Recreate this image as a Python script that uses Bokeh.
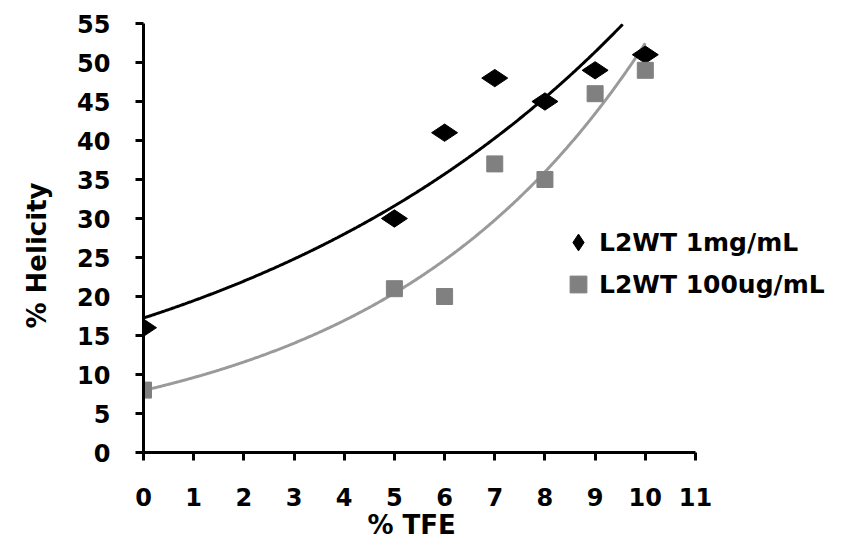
import numpy as np
from bokeh.plotting import figure
from bokeh.models import Legend, LegendItem, Range1d, FixedTicker, Title
from bokeh.embed import file_html
from bokeh.resources import INLINE

# Data
tfe = [0, 5, 6, 7, 8, 9, 10]
helicity_1mg = [16, 30, 41, 48, 45, 49, 51]
helicity_100ug = [8, 21, 20, 37, 35, 46, 49]
x_ticks = list(range(0, 12))
y_ticks = list(range(0, 60, 5))

label_1mg = "L2WT 1mg/mL"
label_100ug = "L2WT 100ug/mL"
x_title = "% TFE"
y_title = "% Helicity"

FONT = "DejaVu Sans"

def exp_trend(x, y):
    # Excel-style exponential trendline: ln(y) = ln(a) + b*x
    b, ln_a = np.polyfit(np.asarray(x, float), np.log(np.asarray(y, float)), 1)
    xs = np.linspace(min(x), max(x), 400)
    return xs, np.exp(ln_a) * np.exp(b * xs)

p = figure(width=838, height=544, output_backend="svg", toolbar_location=None,
           x_range=Range1d(0, 13.85), y_range=Range1d(0, 55),
           min_border_left=143, min_border_right=0, min_border_top=23,
           min_border_bottom=92)
p.outline_line_color = None
p.grid.visible = False
p.background_fill_color = "white"

xs1, ys1 = exp_trend(tfe, helicity_1mg)
mask = ys1 <= 55
p.line(xs1[mask], ys1[mask], line_color="black", line_width=3)
xs2, ys2 = exp_trend(tfe, helicity_100ug)
p.line(xs2, ys2, line_color="#9a9a9a", line_width=3)

r1 = p.scatter(tfe, helicity_1mg, marker="diamond", size=26, angle=np.pi / 2,
               fill_color="black", line_color="black")
r2 = p.scatter(tfe, helicity_100ug, marker="square", size=16,
               fill_color="#808080", line_color="#808080")

for ax in (p.xaxis[0], p.yaxis[0]):
    ax.axis_line_width = 3
    ax.major_tick_line_width = 3
    ax.major_tick_out = 8
    ax.major_tick_in = 0
    ax.minor_tick_line_color = None
    ax.major_label_text_font = FONT
    ax.major_label_text_font_style = "bold"
    ax.major_label_text_font_size = "24px"
    ax.major_label_text_color = "black"

p.xaxis.bounds = (0, 11)
p.xaxis.ticker = FixedTicker(ticks=x_ticks)
p.yaxis.ticker = FixedTicker(ticks=y_ticks)
p.xaxis.major_label_standoff = 27
p.yaxis.major_label_standoff = 25

tx = Title(text=x_title, align="left", offset=224, vertical_align="top",
           standoff=2, text_font=FONT, text_font_style="bold",
           text_font_size="26px", text_color="black")
p.add_layout(tx, "below")

ty = Title(text=y_title, align="left", offset=124, vertical_align="top",
           standoff=41, text_font=FONT, text_font_style="bold",
           text_font_size="26px", text_color="black")
p.add_layout(ty, "left")

legend = Legend(items=[LegendItem(label=label_1mg, renderers=[r1]),
                       LegendItem(label=label_100ug, renderers=[r2])],
                location=(414, 147), glyph_width=42, glyph_height=42,
                label_standoff=0, spacing=0, padding=0, margin=0,
                border_line_color=None, background_fill_alpha=0,
                label_text_font=FONT, label_text_font_style="bold",
                label_text_font_size="25px", label_text_color="black")
p.add_layout(legend)

open("out.html", "w").write(file_html(p, INLINE))
